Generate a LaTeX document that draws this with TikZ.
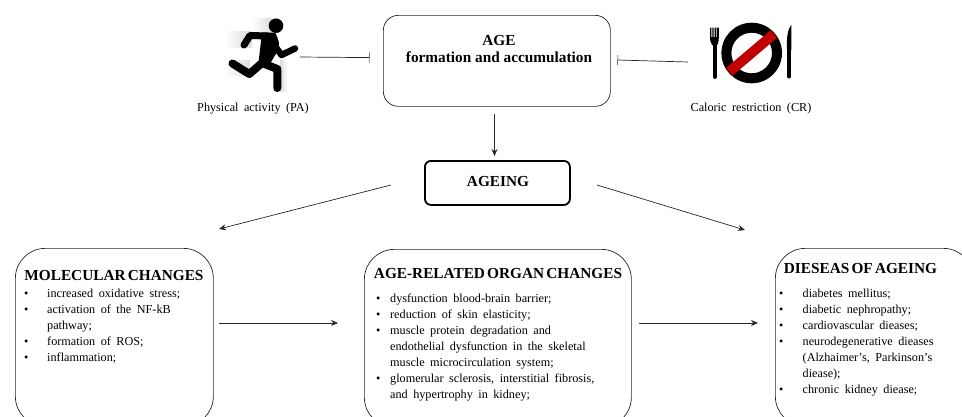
\documentclass[tikz,border=0pt]{standalone}
\usepackage{fontspec}
\setmainfont{Liberation Serif}
\newfontfamily\widefont[WordSpace=1.8]{Liberation Serif}
\usetikzlibrary{arrows.meta}
\newcommand\itm[1][23]{\makebox[#1pt][l]{\textbullet}}
\newcommand\ind[1][23]{\hspace*{#1pt}}
\newcommand\tightwords{\spaceskip=2.2pt\relax}
\tikzset{
  x=1pt,y=-1pt,
  softbox/.style={draw=black!85,line width=0.7pt,rounded corners=#1,anchor=north west,inner sep=0pt},
  softbox/.default=30pt,
  heavybox/.style={draw=black,line width=1.8pt,rounded corners=6pt,anchor=north west,inner sep=0pt},
  head/.style={font=\bfseries\fontsize{15.3}{17.5}\selectfont,inner sep=0pt},
  body/.style={font=\widefont\fontsize{12.2}{16}\selectfont,align=left,anchor=north west,inner sep=0pt},
  caption/.style={font=\widefont\fontsize{12.2}{14}\selectfont,inner sep=0pt},
  conn/.style={draw=black!85,line width=0.7pt},
  arrow/.style={conn,-{Stealth[length=7pt,width=6pt]}},
  inhibit/.style={conn,-{Bar[width=10pt,line width=0.5pt]}},
  glow/.style={draw=none,left color=white,right color=black!14},
  limb/.style={draw=black,line cap=round,line join=round},
}
\begin{document}
\begin{tikzpicture}
\useasboundingbox (0,0) rectangle (962,416);
\begin{scope}
\clip (0,0) rectangle (962,416);
\node[softbox=15pt,minimum width=227pt,minimum height=91pt] (agebox) at (383,15) {};
\node[heavybox,minimum width=145pt,minimum height=44pt] (ageing) at (424,160) {};
\node[softbox,minimum width=198pt,minimum height=178pt] (molbox) at (15,248) {};
\node[softbox,minimum width=267pt,minimum height=178pt] (orgbox) at (364,249) {};
\node[softbox,minimum width=198pt,minimum height=178pt] (disbox) at (775,248) {};
\end{scope}

\node[head,align=center] (agetxt) at (499,49) {AGE\\formation and accumulation};
\node[head] (ageingtxt) at (498,182) {AGEING};
\node[head] (molhead) at (114,275.5) {\tightwords MOLECULAR CHANGES};
\node[head] (orghead) at (498,273.5) {\tightwords AGE-RELATED ORGAN CHANGES};
\node[head] (dishead) at (860.5,269) {\tightwords DIESEAS OF AGEING};

\node[body] (molbody) at (24,288.5) {\itm increased oxidative stress;\\
\itm activation of the NF-kB\\
\ind pathway;\\
\itm formation of ROS;\\
\itm inflammation;};
\node[body] (orgbody) at (376,294) {\itm[8.5] dysfunction blood-brain barrier;\\
\itm[8.5] reduction of skin elasticity;\\
\itm[8.5] muscle protein degradation and\\
\ind[8.5] endothelial dysfunction in the skeletal\\
\ind[8.5] muscle microcirculation system;\\
\itm[8.5] glomerular sclerosis, interstitial fibrosis,\\
\ind[8.5] and hypertrophy in kidney;};
\node[body] (disbody) at (779,288.5) {\itm[18] diabetes mellitus;\\
\itm[18] diabetic nephropathy;\\
\itm[18] cardiovascular dieases;\\
\itm[18] neurodegenerative dieases\\
\ind[18] (Alzhaimer’s, Parkinson’s\\
\ind[18] diease);\\
\itm[18] chronic kidney diease;};
\node[caption] (pacap) at (253,108.5) {Physical activity (PA)};
\node[caption] (crcap) at (751,109) {Caloric restriction (CR)};

% runner
\shade[glow] (224,31) rectangle (252,47);
\shade[glow] (224,60) rectangle (250,75);
\shade[glow] (252,18) rectangle (272,40);
\shade[left color=black!14,right color=white,draw=none] (280,60) rectangle (288,91);
\node[circle,fill=black,minimum size=14.6pt,inner sep=0pt] (runhead) at (276,25.7) {};
\fill[black] (262,32.5) -- (275,32.5) .. controls (279,40) and (281,46) .. (277,52) -- (268,67) -- (258,67) -- cycle;
\draw[limb,line width=7pt] (268,36) -- (250,35.5) -- (244,45);
\draw[limb,line width=6.5pt] (272,42) -- (281.5,55) -- (295,48.5);
\draw[limb,line width=8pt] (262,63) -- (277.3,69) -- (277.3,88);
\draw[limb,line width=8pt] (262,63) -- (249.3,74) -- (232.5,63.5);

% plate
\fill[black,even odd rule] (751.7,53) circle[radius=30.3] (751.7,53) circle[radius=20.3];
\begin{scope}
\clip (751.7,53) circle[radius=29.5];
\draw[draw={rgb,255:red,192;green,0;blue,0},line width=10pt] (725,75.5) -- (778,30.5);
\end{scope}
% fork
\draw[black,line width=3.8pt,line cap=round] (715,44) -- (715,77);
\fill[black] (710,27.5) rectangle (711.4,38) (712.3,27.5) rectangle (713.7,38) (714.6,27.5) rectangle (716,38) (716.9,27.5) rectangle (718.8,38);
\fill[black] (710,37) -- (718.8,37) .. controls (718.8,44) and (717,46) .. (715,47) .. controls (713,46) and (710,44) .. (710,37) -- cycle;
% knife
\draw[black,line width=4pt,line cap=round] (789.3,50) -- (789.3,76.5);
\fill[black] (791.3,25) .. controls (787,30) and (786.6,40) .. (786.8,50) -- (791.3,50) -- cycle;

% connector ends
\coordinate (paS) at (300,57);
\coordinate (paE) at (369.5,57.6);
\coordinate (crS) at (688,62);
\coordinate (crE) at (617.5,60);
\coordinate (dnS) at (494.5,114);
\coordinate (dnE) at (494.5,156);
\coordinate (lS) at (391,185);
\coordinate (lE) at (219,229);
\coordinate (rS) at (597,185);
\coordinate (rE) at (745,230);
\coordinate (h1S) at (219,323);
\coordinate (h1E) at (338,323);
\coordinate (h2S) at (639,323);
\coordinate (h2E) at (758,323);
\draw[inhibit] (paS) -- (paE);
\draw[inhibit] (crS) -- (crE);
\draw[arrow] (dnS) -- (dnE);
\draw[arrow] (lS) -- (lE);
\draw[arrow] (rS) -- (rE);
\draw[arrow] (h1S) -- (h1E);
\draw[arrow] (h2S) -- (h2E);
\end{tikzpicture}
\end{document}
